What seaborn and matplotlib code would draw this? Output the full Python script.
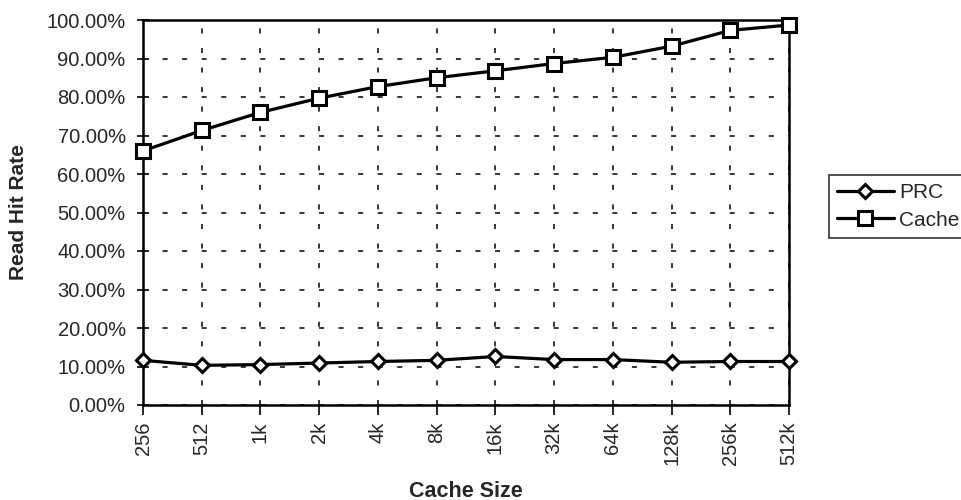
import matplotlib
matplotlib.use("Agg")
import matplotlib.pyplot as plt
import seaborn as sns
import pandas as pd
from matplotlib.ticker import PercentFormatter
from matplotlib.lines import Line2D

cache_sizes = ["256", "512", "1k", "2k", "4k", "8k", "16k", "32k", "64k", "128k", "256k", "512k"]
prc_values = [11.6, 10.3, 10.5, 10.9, 11.3, 11.6, 12.6, 11.8, 11.8, 11.1, 11.3, 11.3]
cache_values = [66.0, 71.3, 76.0, 79.7, 82.7, 85.0, 86.8, 88.7, 90.3, 93.2, 97.3, 98.7]
y_ticks = [0, 10, 20, 30, 40, 50, 60, 70, 80, 90, 100]

df = pd.DataFrame({
    "Cache Size": cache_sizes * 2,
    "Rate": prc_values + cache_values,
    "Series": ["PRC"] * len(cache_sizes) + ["Cache"] * len(cache_sizes),
})

sns.set_style("white")
plt.rcParams["font.family"] = ["Liberation Sans", "DejaVu Sans"]

fig = plt.figure(figsize=(9.61, 5.0), dpi=100)
ax = fig.add_axes([143 / 961, 95 / 500, 646 / 961, 385 / 500])

sns.lineplot(data=df, x="Cache Size", y="Rate", hue="Series", style="Series",
             markers={"PRC": "D", "Cache": "s"}, dashes=False,
             palette={"PRC": "black", "Cache": "black"},
             linewidth=2.3, markerfacecolor="white",
             markeredgecolor="black", markeredgewidth=2.2, ax=ax, sort=False,
             legend=False, clip_on=False, zorder=5)
for ln, mk in zip(ax.lines, ["D", "s"]):
    ln.set_markersize(7.5 if mk == "D" else 9.5)

ax.set_xlim(0, len(cache_sizes) - 1)
ax.set_ylim(0, 100)
ax.set_yticks(y_ticks)
ax.yaxis.set_major_formatter(PercentFormatter(decimals=2))
ax.set_xticks(range(len(cache_sizes)))
ax.set_xticklabels(cache_sizes, rotation=90)

ax.grid(True, which="major", color="black", linestyle=(0, (3.3, 9.5)), linewidth=1.1)
for s in ax.spines.values():
    s.set_visible(True)
    s.set_color("black")
    s.set_linewidth(1.8)

ax.tick_params(axis="y", direction="inout", length=9, width=1.4, labelsize=14.5, pad=8, left=True)
ax.tick_params(axis="x", direction="out", length=7, width=1.4, labelsize=14.5, pad=5, bottom=True)

ax.set_xlabel("Cache Size", fontsize=15.5, fontweight="bold", labelpad=11)
ax.set_ylabel("Read Hit Rate", fontsize=15, fontweight="bold", labelpad=13)

handles = [
    Line2D([], [], color="black", lw=2.3, marker="D", markersize=7.5, markerfacecolor="white", markeredgecolor="black", markeredgewidth=2.2),
    Line2D([], [], color="black", lw=2.3, marker="s", markersize=9.5, markerfacecolor="white", markeredgecolor="black", markeredgewidth=2.2),
]
leg = fig.legend(handles, ["PRC", "Cache"], loc="center left", bbox_to_anchor=(829 / 961, 0.587),
                 frameon=True, fancybox=False, edgecolor="black", fontsize=15,
                 handlelength=2.7, handletextpad=0.25, borderpad=0.4, labelspacing=0.4,
                 borderaxespad=0)
leg.get_frame().set_linewidth(1.2)

fig.savefig("out.png", dpi=100)
